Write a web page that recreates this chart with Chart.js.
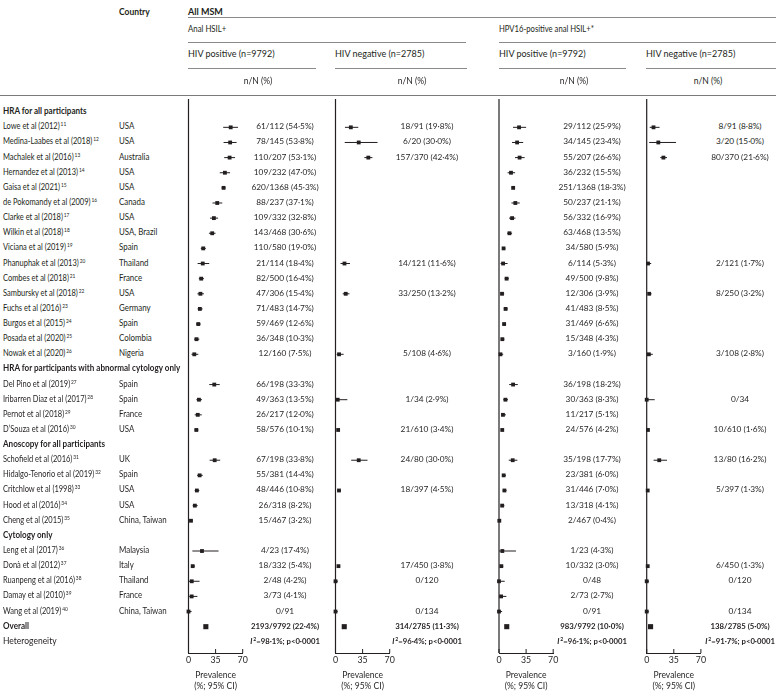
<!DOCTYPE html>
<html>
<head>
<meta charset="utf-8">
<script src="https://cdn.jsdelivr.net/npm/chart.js@4.4.0/dist/chart.umd.min.js"></script>
<style>
  html, body { margin: 0; padding: 0; background: #fff; }
  #page { position: relative; width: 776px; height: 692px; overflow: hidden;
          font-family: Lato, "Open Sans", sans-serif; font-size: 8.5px; color: #231f20; }
  .t { position: absolute; white-space: nowrap; line-height: 10px; }
  .b { font-weight: 700; }
  .rule { position: absolute; height: 0; }
  .panel { position: absolute; }
  sup { font-size: 5.5px; vertical-align: 0; position: relative; top: -3px; margin-left: 1px; }
</style>
</head>
<body>
<div id="page"></div>
<script>
// rows: 0..35, section headers at 0, 17, 22, 28; overall 34, heterogeneity 35
const rowNames = [
  'HRA for all participants', 'Lowe et al (2012)', 'Medina-Laabes et al (2018)', 'Machalek et al (2016)',
  'Hernandez et al (2013)', 'Gaisa et al (2021)', 'de Pokomandy et al (2009)', 'Clarke et al (2018)',
  'Wilkin et al (2018)', 'Viciana et al (2019)', 'Phanuphak et al (2013)', 'Combes et al (2018)',
  'Sambursky et al (2018)', 'Fuchs et al (2016)', 'Burgos et al (2015)', 'Posada et al (2020)',
  'Nowak et al (2020)', 'HRA for participants with abnormal cytology only', 'Del Pino et al (2019)',
  'Iribarren Diaz et al (2017)', 'Pernot et al (2018)', 'D\u2019Souza et al (2016)', 'Anoscopy for all participants',
  'Schofield et al (2016)', 'Hidalgo-Tenorio et al (2019)', 'Critchlow et al (1998)', 'Hood et al (2016)',
  'Cheng et al (2015)', 'Cytology only', 'Leng et al (2017)', 'Donà et al (2012)', 'Ruanpeng et al (2016)',
  'Damay et al (2010)', 'Wang et al (2019)', 'Overall', 'Heterogeneity'
];
const rowRefs = [null, 11, 12, 13, 14, 15, 16, 17, 18, 19, 20, 21, 22, 23, 24, 25, 26, null, 27, 28, 29, 30,
  null, 31, 32, 33, 34, 35, null, 36, 37, 38, 39, 40, null, null];
const boldRows = [0, 17, 22, 28, 34];
const countries = [null, 'USA', 'USA', 'Australia', 'USA', 'USA', 'Canada', 'USA', 'USA, Brazil', 'Spain',
  'Thailand', 'France', 'USA', 'Germany', 'Spain', 'Colombia', 'Nigeria', null, 'Spain', 'Spain', 'France', 'USA',
  null, 'UK', 'Spain', 'USA', 'USA', 'China, Taiwan', null, 'Malaysia', 'Italy', 'Thailand', 'France',
  'China, Taiwan', null, null];

// panel 1: anal HSIL+, HIV positive
const p1Counts = [null, '61/112', '78/145', '110/207', '109/232', '620/1368', '88/237', '109/332', '143/468', '110/580',
  '21/114', '82/500', '47/306', '71/483', '59/469', '36/348', '12/160', null, '66/198', '49/363', '26/217', '58/576',
  null, '67/198', '55/381', '48/446', '26/318', '15/467', null, '4/23', '18/332', '2/48', '3/73', '0/91', '2193/9792', null];
const p1Prev = [null, 54.5, 53.8, 53.1, 47.0, 45.3, 37.1, 32.8, 30.6, 19.0, 18.4, 16.4, 15.4, 14.7, 12.6, 10.3, 7.5,
  null, 33.3, 13.5, 12.0, 10.1, null, 33.8, 14.4, 10.8, 8.2, 3.2, null, 17.4, 5.4, 4.2, 4.1, 0, 22.4, null];
const p1Lo = [null, 44.8, 45.3, 46.1, 40.4, 42.7, 31.0, 27.8, 26.4, 15.9, 11.8, 13.3, 11.5, 11.7, 9.7, 7.3, 3.9,
  null, 26.8, 10.2, 8.0, 7.7, null, 27.3, 11.1, 8.0, 5.4, 1.8, null, 5.0, 3.2, 0.5, 0.9, 0, null, null];
const p1Hi = [null, 63.9, 62.1, 60.1, 53.6, 48.0, 43.6, 38.2, 34.9, 22.4, 26.8, 19.9, 19.9, 18.2, 15.9, 14.0, 12.7,
  null, 40.3, 17.4, 17.1, 12.8, null, 40.9, 18.4, 14.0, 11.8, 5.2, null, 38.8, 8.4, 14.3, 11.5, 4.0, null, null];

// panel 2: anal HSIL+, HIV negative
const p2Counts = [null, '18/91', '6/20', '157/370', null, null, null, null, null, null, '14/121', null, '33/250',
  null, null, null, '5/108', null, null, '1/34', null, '21/610', null, '24/80', null, '18/397', null, null, null,
  null, '17/450', '0/120', null, '0/134', '314/2785', null];
const p2Prev = [null, 19.8, 30.0, 42.4, null, null, null, null, null, null, 11.6, null, 13.2, null, null, null, 4.6,
  null, null, 2.9, null, 3.4, null, 30.0, null, 4.5, null, null, null, null, 3.8, 0, null, 0, 11.3, null];
const p2Lo = [null, 12.2, 11.9, 37.3, null, null, null, null, null, null, 6.5, null, 9.3, null, null, null, 1.5,
  null, null, 0.1, null, 2.1, null, 20.3, null, 2.7, null, null, null, null, 2.2, 0, null, 0, null, null];
const p2Hi = [null, 29.4, 54.3, 47.7, null, null, null, null, null, null, 18.7, null, 18.0, null, null, null, 10.5,
  null, null, 15.3, null, 5.2, null, 41.3, null, 7.1, null, null, null, null, 6.0, 3.0, null, 2.7, null, null];

// panel 3: HPV16-positive anal HSIL+, HIV positive
const p3Counts = [null, '29/112', '34/145', '55/207', '36/232', '251/1368', '50/237', '56/332', '63/468', '34/580',
  '6/114', '49/500', '12/306', '41/483', '31/469', '15/348', '3/160', null, '36/198', '30/363', '11/217', '24/576',
  null, '35/198', '23/381', '31/446', '13/318', '2/467', null, '1/23', '10/332', '0/48', '2/73', '0/91', '983/9792', null];
const p3Prev = [null, 25.9, 23.4, 26.6, 15.5, 18.3, 21.1, 16.9, 13.5, 5.9, 5.3, 9.8, 3.9, 8.5, 6.6, 4.3, 1.9,
  null, 18.2, 8.3, 5.1, 4.2, null, 17.7, 6.0, 7.0, 4.1, 0.4, null, 4.3, 3.0, 0, 2.7, 0, 10.0, null];
const p3Lo = [null, 18.1, 16.8, 20.7, 11.1, 16.3, 16.1, 13.0, 10.5, 4.1, 2.0, 7.3, 2.0, 6.2, 4.5, 2.4, 0.4,
  null, 13.1, 5.6, 2.6, 2.7, null, 12.6, 3.9, 4.8, 2.2, 0.1, null, 0.1, 1.5, 0, 0.3, 0, null, null];
const p3Hi = [null, 35.0, 31.2, 33.1, 20.8, 20.5, 26.8, 21.3, 16.9, 8.1, 11.1, 12.7, 6.7, 11.3, 9.3, 7.0, 5.4,
  null, 24.3, 11.6, 8.9, 6.1, null, 23.7, 8.9, 9.7, 6.9, 1.5, null, 21.9, 5.5, 7.4, 9.5, 4.0, null, null];

// panel 4: HPV16-positive anal HSIL+, HIV negative
const p4Counts = [null, '8/91', '3/20', '80/370', null, null, null, null, null, null, '2/121', null, '8/250',
  null, null, null, '3/108', null, null, '0/34', null, '10/610', null, '13/80', null, '5/397', null, null, null,
  null, '6/450', '0/120', null, '0/134', '138/2785', null];
const p4Prev = [null, 8.8, 15.0, 21.6, null, null, null, null, null, null, 1.7, null, 3.2, null, null, null, 2.8,
  null, null, 0, null, 1.6, null, 16.2, null, 1.3, null, null, null, null, 1.3, 0, null, 0, 5.0, null];
const p4Lo = [null, 3.9, 3.2, 17.5, null, null, null, null, null, null, 0.2, null, 1.4, null, null, null, 0.6,
  null, null, 0, null, 0.8, null, 8.9, null, 0.4, null, null, null, null, 0.5, 0, null, 0, null, null];
const p4Hi = [null, 16.6, 37.9, 26.2, null, null, null, null, null, null, 5.8, null, 6.2, null, null, null, 7.9,
  null, null, 10.3, null, 3.0, null, 26.2, null, 2.9, null, null, null, null, 2.9, 3.0, null, 2.7, null, null];

const hetI2 = [98.1, 96.4, 96.1, 91.7];
const xTicks = [0, 35, 70];

const panels = [
  { counts: p1Counts, prev: p1Prev, lo: p1Lo, hi: p1Hi },
  { counts: p2Counts, prev: p2Prev, lo: p2Lo, hi: p2Hi },
  { counts: p3Counts, prev: p3Prev, lo: p3Lo, hi: p3Hi },
  { counts: p4Counts, prev: p4Prev, lo: p4Lo, hi: p4Hi }
];

// layout
const OVERALL = 34, HET = 35;
const AXIS_TOP = 95, AXIS_BOTTOM = 653, PAGE_H = 692;
const panelLeft = [188.5, 335.5, 499, 646.7];
const PANEL_W = 54.2, BOX_W = 84;
const textCenter = [285, 427, 592, 740];
const INK = '#231f20';

const page = document.getElementById('page');

// anchor: 'l' = left edge at x, 'c' = centred on x; sx squeezes the text horizontally
function addText(html, x, y, anchor, opts = {}) {
  const d = document.createElement('div');
  d.className = 't' + (opts.bold ? ' b' : '');
  d.style.left = x + 'px';
  d.style.top = y + 'px';
  if (opts.size) d.style.fontSize = opts.size + 'px';
  const sx = opts.sx || 1;
  if (anchor === 'c') {
    d.style.transform = `translate(-50%, -50%) scaleX(${sx})`;
    d.style.transformOrigin = '50% 50%';
  } else {
    d.style.transform = `translateY(-50%) scaleX(${sx})`;
    d.style.transformOrigin = '0 50%';
  }
  d.innerHTML = html;
  page.appendChild(d);
}

function addRule(x1, x2, y, w, color) {
  const d = document.createElement('div');
  d.className = 'rule';
  d.style.left = x1 + 'px';
  d.style.width = (x2 - x1) + 'px';
  d.style.top = y + 'px';
  d.style.borderTop = w + 'px solid ' + color;
  page.appendChild(d);
}

const fmt = v => v.toFixed(1).replace('.', '\u00b7');

const charts = panels.map((p, k) => {
  const box = document.createElement('div');
  box.className = 'panel';
  const left = Math.floor(panelLeft[k]) - 14;
  const padL = panelLeft[k] - left;
  box.style.left = left + 'px';
  box.style.top = AXIS_TOP + 'px';
  box.style.width = BOX_W + 'px';
  box.style.height = (PAGE_H - AXIS_TOP) + 'px';
  const canvas = document.createElement('canvas');
  box.appendChild(canvas);
  page.appendChild(box);

  const pts = [];
  p.prev.forEach((v, i) => { if (v != null) pts.push({ x: v, y: i }); });

  const forest = {
    id: 'forest' + k,
    beforeDatasetsDraw(chart) {
      const { ctx, scales: { x, y }, chartArea } = chart;
      ctx.save();
      ctx.strokeStyle = INK;
      ctx.lineWidth = 1;
      p.lo.forEach((lo, i) => {
        if (lo == null) return;
        const yy = y.getPixelForValue(i);
        ctx.beginPath();
        ctx.moveTo(x.getPixelForValue(lo), yy);
        ctx.lineTo(x.getPixelForValue(p.hi[i]), yy);
        ctx.stroke();
      });
      // left frame line at 0
      const x0 = x.getPixelForValue(0);
      ctx.lineWidth = 1.2;
      ctx.beginPath();
      ctx.moveTo(x0, chartArea.top);
      ctx.lineTo(x0, chartArea.bottom);
      ctx.stroke();
      // inward tick marks
      ctx.lineWidth = 1;
      xTicks.forEach(t => {
        const px = x.getPixelForValue(t);
        ctx.beginPath();
        ctx.moveTo(px, chartArea.bottom);
        ctx.lineTo(px, chartArea.bottom - 4);
        ctx.stroke();
      });
      ctx.restore();
    }
  };

  return new Chart(canvas, {
    type: 'scatter',
    data: {
      datasets: [{
        data: pts,
        backgroundColor: INK,
        borderColor: INK,
        borderWidth: 0,
        pointStyle: 'rect',
        pointRadius: c => (c.raw && c.raw.y === OVERALL ? 3.6 : 2.7),
        clip: false
      }]
    },
    options: {
      responsive: true,
      maintainAspectRatio: false,
      animation: false,
      events: [],
      layout: { padding: { left: padL, right: BOX_W - padL - PANEL_W, top: 0, bottom: 0 } },
      plugins: { legend: { display: false }, tooltip: { enabled: false } },
      scales: {
        x: {
          type: 'linear', min: 0, max: 70,
          afterBuildTicks: s => { s.ticks = xTicks.map(v => ({ value: v })); },
          afterFit: s => { s.height = PAGE_H - AXIS_BOTTOM; },
          grid: { display: false, drawTicks: false },
          border: { display: true, color: INK, width: 1 },
          ticks: { color: INK, padding: 2, maxRotation: 0, font: { family: 'Lato', size: 8.8 } },
          title: {
            display: true, text: ['Prevalence', '(%; 95% CI)'], color: INK,
            padding: { top: 0, bottom: 0 }, font: { family: 'Lato', size: 8.5, lineHeight: 1.3 }
          }
        },
        y: { type: 'linear', reverse: true, min: -0.873, max: 35.74, display: false }
      }
    },
    plugins: [forest]
  });
});

// text, aligned to the chart rows
const yScale = charts[0].scales.y;
const rowY = i => AXIS_TOP + yScale.getPixelForValue(i);

rowNames.forEach((name, i) => {
  const ref = rowRefs[i] != null ? '<sup>' + rowRefs[i] + '</sup>' : '';
  const bold = boldRows.includes(i);
  const sx = i === HET ? 1 : (bold ? 0.95 : 0.88);
  addText(name + ref, 3, rowY(i) - 1, 'l', { bold, sx });
  if (countries[i]) addText(countries[i], 119, rowY(i) - 1, 'l', { sx: 0.93 });
});

panels.forEach((p, k) => {
  p.counts.forEach((c, i) => {
    if (c == null) return;
    const txt = p.prev[i] > 0 ? c + ' (' + fmt(p.prev[i]) + '%)' : c;
    const bold = i === OVERALL;
    addText(txt, textCenter[k], rowY(i) - 1, 'c', { bold, size: 8.3, sx: bold ? 0.94 : 1 });
  });
  addText('<i>I</i><sup>2</sup>=' + fmt(hetI2[k]) + '%; p&lt;0\u00b70001', textCenter[k], rowY(HET) - 1, 'c',
    { bold: true, size: 8.3, sx: 0.93 });
});

// column headers
addText('Country', 119, 12, 'l', { bold: true });
addText('All MSM', 188, 12, 'l', { bold: true, size: 9 });
addRule(188, 776, 17, 1, '#8a8a8a');
addText('Anal HSIL+', 188, 29, 'l', { sx: 0.92 });
addText('HPV16-positive anal HSIL+*', 499, 29, 'l', { sx: 0.9 });
addRule(188, 466, 42, 1, '#8a8a8a');
addRule(499, 776, 42, 1, '#8a8a8a');
const groupHeads = ['HIV positive (n=9792)', 'HIV negative (n=2785)', 'HIV positive (n=9792)', 'HIV negative (n=2785)'];
const groupLeft = [188, 335, 499, 646];
const groupRight = [316, 467, 626, 776];
const nnCenter = [258, 412, 574, 708];
groupHeads.forEach((h, k) => {
  addText(h, groupLeft[k], 54, 'l', { size: 9 });
  addRule(groupLeft[k], groupRight[k], 68, 1, '#8a8a8a');
  addText('n/N (%)', nnCenter[k], 81, 'c');
});
addRule(0, 776, 94.5, 1.5, '#7a7a7a');
</script>
</body>
</html>
